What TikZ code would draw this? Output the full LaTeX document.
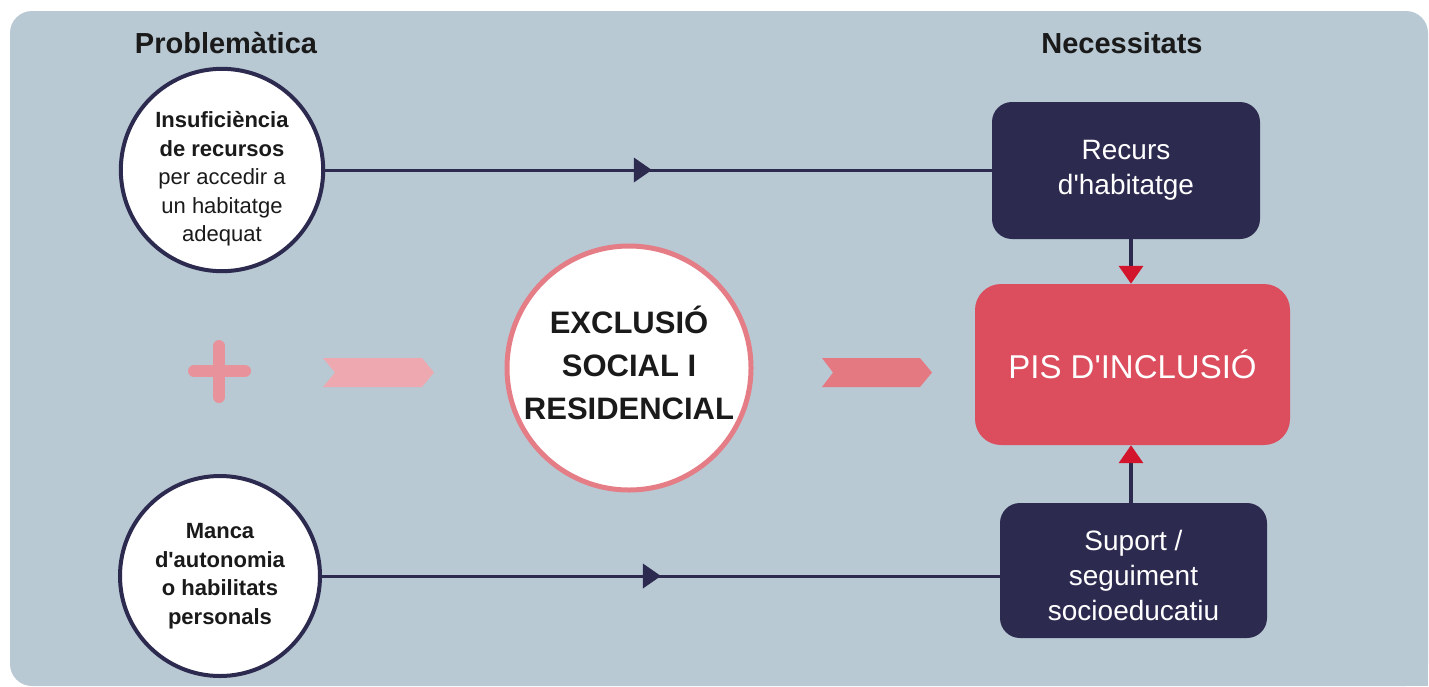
\documentclass[tikz,border=0pt]{standalone}
\usepackage{fontspec}
\setmainfont{Liberation Sans}
\usetikzlibrary{arrows.meta,decorations.markings}
\definecolor{panel}{HTML}{B8C9D4}
\definecolor{navy}{HTML}{2D2A50}
\definecolor{pisred}{HTML}{DC4D5D}
\definecolor{ringpink}{HTML}{E57D87}
\definecolor{tipred}{HTML}{D2152C}
\definecolor{plusc}{HTML}{E8929B}
\definecolor{chevA}{HTML}{EEA8B0}
\definecolor{chevB}{HTML}{E57982}
\definecolor{txt}{HTML}{1A1A1A}
\newcommand{\apos}{\textquotesingle}
\begin{document}
\begin{tikzpicture}[x=1pt,y=-1pt,
  heading/.style={font=\fontsize{29}{34}\selectfont\bfseries, text=txt, inner sep=0},
  probcirc/.style={circle, draw=navy, line width=4pt, fill=white, minimum size=200pt, inner sep=0pt,
    align=center, text=txt, font=\fontsize{22}{28.5}\selectfont},
  centcirc/.style={circle, draw=ringpink, line width=5pt, fill=white, minimum size=244pt, inner sep=0pt,
    align=center, text=txt, font=\fontsize{31}{43}\selectfont\bfseries},
  needbox/.style={rectangle, rounded corners=20pt, fill=navy, text=white, align=center,
    font=\fontsize{28}{35}\selectfont, inner sep=0pt},
  pisbox/.style={rectangle, rounded corners=26pt, fill=pisred, text=white, align=center,
    font=\fontsize{33}{40}\selectfont, inner sep=0pt, minimum width=315pt, minimum height=161pt},
  hline/.style={draw=navy, line width=3pt, postaction={decorate}},
  varrow/.style={draw=navy, line width=3.5pt, -{Triangle[length=18pt,width=24pt,color=tipred]}},
]
\useasboundingbox (0,0) rectangle (1429,686);
\fill[white] (0,0) rectangle (1429,686);
\fill[panel, rounded corners=22pt] (10,11) rectangle (1428,686);
\fill[panel] (1380,640) rectangle (1428,686);

% headings
\node[heading] (hprob) at (226,43) {Problemàtica};
\node[heading] (hnec) at (1122,43) {Necessitats};

% problem circles
\node[probcirc] (c1) at (222,170) {\rule{0pt}{34pt}\textbf{Insuficiència}\\\textbf{de recursos}\\per accedir a\\un habitatge\\adequat};
\node[probcirc, font=\fontsize{22}{28.5}\selectfont\bfseries] (c2) at (220,576) {Manca\\d\apos autonomia\\o habilitats\\personals};

% centre circle
\node[centcirc] (exc) at (629,368) {EXCLUSIÓ\\SOCIAL I\\RESIDENCIAL\rule[-10pt]{0pt}{10pt}};

% need boxes
\node[needbox, minimum width=268pt, minimum height=137pt] (rec) at (1126,170.5) {Recurs\\d\apos habitatge};
\node[pisbox] (pis) at (1132.5,364.5) {PIS D\apos INCLUSIÓ};
\node[needbox, minimum width=267pt, minimum height=135pt] (sup) at (1133.5,570.5) {\rule{0pt}{30pt}Suport /\\seguiment\\socioeducatiu};

% plus sign
\draw[plusc, line width=12pt, line cap=round] (194,371) -- (245,371);
\draw[plusc, line width=12pt, line cap=round] (219,346) -- (219,397);

% chevrons
\fill[chevA] (323,358) -- (422,358) -- (434,372.5) -- (422,387) -- (323,387) -- (335,372.5) -- cycle;
\fill[chevB] (822,358) -- (920,358) -- (932,372.5) -- (920,387) -- (822,387) -- (833,372.5) -- cycle;

% connectors
\path[hline, decoration={markings, mark=at position 0.49 with {\fill[navy] (0,0) -- (-18,12.5) -- (-18,-12.5) -- cycle;}}]
  (c1.east) -- (c1.east -| rec.west);
\path[hline, decoration={markings, mark=at position 0.5 with {\fill[navy] (0,0) -- (-18,12.5) -- (-18,-12.5) -- cycle;}}]
  (c2.east) -- (c2.east -| sup.west);
\draw[varrow] (1131,0 |- rec.south) -- (1131,0 |- pis.north);
\draw[varrow] (1131,0 |- sup.north) -- (1131,0 |- pis.south);
\end{tikzpicture}
\end{document}
